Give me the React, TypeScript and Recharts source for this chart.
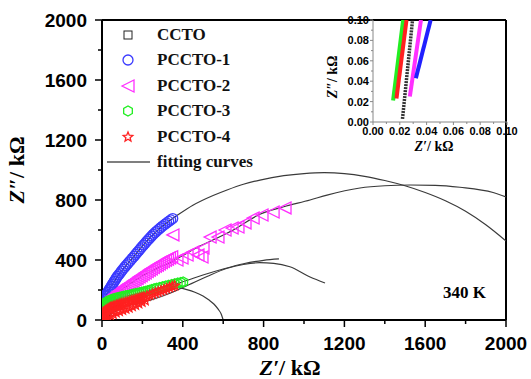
import {
  ComposedChart,
  Legend,
  Line,
  ReferenceLine,
  Scatter,
  XAxis,
  YAxis,
} from "recharts";

type Pt = [number, number];

// measured points (Z', Z'') in kΩ
const cctoPts: Pt[] = [[8, 4], [12, 10], [16, 16], [20, 22], [24, 28]];
const pccto1Pts: Pt[] = [
  [2, 90], [3, 100], [5, 110], [7, 118], [9, 126], [12, 136], [15, 146], [18, 156],
  [21, 165], [24, 174], [28, 184], [32, 194], [36, 204], [41, 214], [46, 225], [51, 236],
  [56, 247], [61, 258], [66, 269], [71, 280], [77, 291], [83, 302], [90, 314], [97, 326],
  [104, 338], [111, 350], [118, 362], [126, 374], [134, 386], [142, 398], [150, 411],
  [158, 424], [166, 437], [174, 450], [182, 462], [190, 475], [198, 488], [206, 500],
  [214, 512], [222, 525], [230, 537], [238, 549], [246, 560], [254, 571], [262, 582],
  [270, 592], [280, 604], [290, 615], [300, 626], [310, 637], [320, 647], [330, 657],
  [340, 667], [350, 676],
];
const pccto2Pts: Pt[] = [
  [2, 70], [4, 80], [7, 90], [10, 98], [14, 106], [18, 113], [23, 121], [28, 128],
  [34, 136], [40, 144], [47, 152], [54, 160], [62, 169], [70, 178], [78, 187], [87, 196],
  [96, 205], [105, 214], [114, 223], [124, 232], [134, 241], [144, 250], [154, 259],
  [164, 268], [174, 277], [184, 287], [194, 296], [204, 305], [214, 314], [224, 323],
  [234, 332], [244, 341], [254, 350], [264, 358], [274, 366], [284, 374], [294, 382],
  [304, 390], [314, 398], [324, 406], [334, 414], [345, 422],
  [351, 567], [371, 400], [396, 413], [421, 433], [450, 453], [475, 433], [495, 420],
  [500, 480], [535, 553], [574, 553], [609, 600], [644, 613], [673, 620], [708, 647],
  [748, 680], [792, 700], [847, 720], [906, 747],
];
const pccto3Pts: Pt[] = [
  [0, 60], [2, 75], [4, 88], [7, 98], [10, 105], [14, 111], [18, 116], [23, 121],
  [28, 125], [34, 129], [40, 132], [47, 136], [54, 140], [62, 143], [70, 146], [78, 149],
  [87, 152], [96, 155], [106, 158], [116, 161], [126, 164], [136, 167], [146, 170],
  [156, 173], [166, 176], [176, 179], [186, 182], [196, 185], [206, 188], [216, 191],
  [226, 195], [236, 199], [246, 203], [258, 208], [270, 212], [285, 217], [300, 222],
  [315, 227], [330, 232], [345, 236], [360, 241], [375, 246], [390, 250], [402, 254],
];
const pccto4Pts: Pt[] = [
  [0, 5], [2, 18], [4, 28], [6, 36], [9, 44], [12, 51], [16, 58], [20, 64], [25, 69],
  [30, 74], [36, 78], [42, 82], [49, 86], [56, 90], [64, 94], [72, 98], [80, 102],
  [89, 106], [98, 110], [108, 114], [118, 118], [128, 122], [138, 126], [148, 130],
  [158, 134], [168, 138], [178, 142], [188, 146], [198, 150], [208, 154],
  [6, 2], [12, 8], [20, 14], [30, 22], [42, 32], [55, 40], [70, 50], [86, 58], [102, 66],
  [118, 74], [134, 82], [150, 92], [166, 100], [182, 110], [198, 120], [214, 130],
  [222, 160], [236, 167], [250, 174], [264, 181], [278, 188], [292, 195], [306, 202],
  [320, 209], [334, 216], [348, 223], [360, 229],
];

// fitting curves
const fitCcto: Pt[] = [
  [330, 222], [380, 216], [420, 203], [460, 185], [500, 160], [530, 133], [555, 105],
  [575, 72], [590, 40], [600, 0],
];
const fit1: Pt[] = [
  [3, 90], [25, 175], [74, 285], [155, 420], [238, 550], [337, 665], [361, 687],
  [450, 765], [550, 830], [619, 867], [700, 905], [782, 933], [900, 962], [1000, 976],
  [1100, 982], [1200, 976], [1300, 958], [1400, 930], [1500, 895], [1600, 850],
  [1700, 795], [1800, 725], [1900, 635], [2000, 527],
];
const fit2: Pt[] = [
  [3, 70], [15, 90], [60, 160], [144, 247], [220, 310], [312, 367], [400, 430],
  [475, 487], [560, 540], [650, 600], [782, 705], [900, 755], [1030, 800], [1114, 833],
  [1277, 880], [1400, 895], [1525, 900], [1650, 898], [1772, 885], [1936, 850], [2000, 820],
];
const fit3: Pt[] = [
  [3, 90], [30, 120], [80, 145], [150, 168], [220, 190], [300, 220], [400, 255],
  [500, 300], [600, 340], [700, 375], [800, 398], [876, 407],
];
const fit4: Pt[] = [
  [20, 0], [30, 20], [50, 45], [80, 67], [140, 100], [240, 133], [340, 180], [430, 235],
  [520, 290], [620, 345], [700, 370], [780, 382], [850, 378], [930, 355], [1030, 287], [1104, 247],
];

// inset (0–0.1 kΩ)
const insetCcto: Pt[] = [[0.022, 0.003], [0.0295, 0.1]];
const inset1: Pt[] = [[0.032, 0.043], [0.043, 0.1]];
const inset2: Pt[] = [[0.0275, 0.025], [0.0358, 0.1]];
const inset3: Pt[] = [[0.015, 0.021], [0.0225, 0.1]];
const inset4: Pt[] = [[0.0175, 0.023], [0.025, 0.1]];

const mainTicks = [0, 200, 400, 600, 800, 1000, 1200, 1400, 1600, 1800, 2000];
const insetTicks = [0, 0.01, 0.02, 0.03, 0.04, 0.05, 0.06, 0.07, 0.08, 0.09, 0.1];

const toXY = (a: Pt[]) => a.map(([x, y]) => ({ x, y }));

const BLACK = "#222";
const BLUE = "#3a3aff";
const MAGENTA = "#ff30ff";
const GREEN = "#22ee22";
const RED = "#ff2020";
const FIT = "#3a3a3a";
const SW = 1.3;

const sans = "'Liberation Sans', Arial, sans-serif";
const serif = "'Liberation Serif', 'Times New Roman', serif";

function Square({ cx, cy, c = BLACK }: any) {
  return <rect x={cx - 4} y={cy - 4} width={8} height={8} fill="none" stroke={c} strokeWidth={1} />;
}
function Circ({ cx, cy, c = BLUE }: any) {
  return <circle cx={cx} cy={cy} r={5} fill="none" stroke={c} strokeWidth={SW} />;
}
function Tri({ cx, cy, c = MAGENTA }: any) {
  return (
    <polygon
      points={`${cx - 6},${cy} ${cx + 6},${cy - 6} ${cx + 6},${cy + 6}`}
      fill="none"
      stroke={c}
      strokeWidth={SW}
    />
  );
}
function Hex({ cx, cy, c = GREEN }: any) {
  const p = [0, 1, 2, 3, 4, 5]
    .map((i) => {
      const a = (Math.PI / 3) * i + Math.PI / 6;
      return `${cx + 5 * Math.cos(a)},${cy + 5 * Math.sin(a)}`;
    })
    .join(" ");
  return <polygon points={p} fill="none" stroke={c} strokeWidth={SW} />;
}
function Star({ cx, cy, c = RED }: any) {
  const p = Array.from({ length: 10 }, (_, i) => {
    const r = i % 2 === 0 ? 5 : 2.2;
    const a = -Math.PI / 2 + (Math.PI / 5) * i;
    return `${cx + r * Math.cos(a)},${cy + r * Math.sin(a)}`;
  }).join(" ");
  return <polygon points={p} fill="none" stroke={c} strokeWidth={SW} />;
}

function MainXTick({ x, y, payload }: any) {
  const major = payload.value % 400 === 0;
  return (
    <g>
      <line x1={x} x2={x} y1={y} y2={y + (major ? 7 : 4)} stroke="#000" strokeWidth={1.5} />
      {major && (
        <text x={x} y={y + 30} textAnchor="middle" fontFamily={sans} fontWeight="bold" fontSize={19} fill="#000">
          {payload.value}
        </text>
      )}
    </g>
  );
}
function MainYTick({ x, y, payload }: any) {
  const major = payload.value % 400 === 0;
  return (
    <g>
      <line x1={x - (major ? 7 : 4)} x2={x} y1={y} y2={y} stroke="#000" strokeWidth={1.5} />
      {major && (
        <text x={x - 15} y={y + 7} textAnchor="end" fontFamily={sans} fontWeight="bold" fontSize={19} fill="#000">
          {payload.value}
        </text>
      )}
    </g>
  );
}
function InsetXTick({ x, y, payload }: any) {
  const major = Math.round(payload.value * 100) % 2 === 0;
  return (
    <g>
      <line x1={x} x2={x} y1={y} y2={y + (major ? 3 : 2)} stroke="#888" strokeWidth={1} />
      {major && (
        <text x={x} y={y + 13} textAnchor="middle" fontFamily={sans} fontWeight="bold" fontSize={11} fill="#000">
          {payload.value.toFixed(2)}
        </text>
      )}
    </g>
  );
}
function InsetYTick({ x, y, payload }: any) {
  const major = Math.round(payload.value * 100) % 2 === 0;
  return (
    <g>
      <line x1={x - (major ? 3 : 2)} x2={x} y1={y} y2={y} stroke="#888" strokeWidth={1} />
      {major && (
        <text x={x - 4} y={y + 4} textAnchor="end" fontFamily={sans} fontWeight="bold" fontSize={11} fill="#000">
          {payload.value.toFixed(2)}
        </text>
      )}
    </g>
  );
}

function Title({ prime, x, y, size, rotate }: any) {
  return (
    <text
      x={x}
      y={y}
      textAnchor="middle"
      fontFamily={serif}
      fontWeight="bold"
      fontSize={size}
      fill="#000"
      transform={rotate ? `rotate(-90 ${x} ${y})` : undefined}
    >
      <tspan fontStyle="italic">{prime}</tspan>
      <tspan>/ kΩ</tspan>
    </text>
  );
}

const legendRows = [
  { name: "CCTO", M: Square },
  { name: "PCCTO-1", M: Circ },
  { name: "PCCTO-2", M: Tri },
  { name: "PCCTO-3", M: Hex },
  { name: "PCCTO-4", M: Star },
  { name: "fitting curves", M: null },
];

function LegendBox() {
  return (
    <div style={{ fontFamily: serif, fontWeight: "bold", fontSize: 17, color: "#111" }}>
      {legendRows.map(({ name, M }) => (
        <div key={name} style={{ display: "flex", alignItems: "center", height: 25.5 }}>
          <svg width={48} height={16} style={{ display: "block" }}>
            {M ? <M cx={24} cy={8} /> : <line x1={3} x2={46} y1={8} y2={8} stroke="#555" strokeWidth={1.5} />}
          </svg>
          <span style={{ marginLeft: 5, lineHeight: "16px" }}>{name}</span>
        </div>
      ))}
    </div>
  );
}

function fitLine(key: string, data: Pt[]) {
  return (
    <Line
      key={key}
      data={toXY(data)}
      dataKey="y"
      type="monotone"
      stroke={FIT}
      strokeWidth={1.2}
      dot={false}
      activeDot={false}
      isAnimationActive={false}
      legendType="none"
    />
  );
}

export default function App() {
  return (
    <div style={{ position: "absolute", left: 0, top: 0, width: 531, height: 379, background: "#fff" }}>
      <ComposedChart width={531} height={379} margin={{ top: 20, right: 25, bottom: 9, left: 0 }}>
        <XAxis
          dataKey="x"
          type="number"
          domain={[0, 2000]}
          ticks={mainTicks}
          interval={0}
          allowDataOverflow
          height={50}
          tickSize={0}
          tickMargin={0}
          tickLine={false}
          tick={<MainXTick />}
          axisLine={{ stroke: "#000", strokeWidth: 2 }}
          label={{
            content: ({ viewBox }: any) => (
              <Title prime="Z′" x={viewBox.x + viewBox.width / 2 - 14} y={viewBox.y + 55} size={22} />
            ),
          }}
        />
        <YAxis
          type="number"
          domain={[0, 2000]}
          ticks={mainTicks}
          interval={0}
          allowDataOverflow
          width={102}
          tickSize={0}
          tickMargin={0}
          tickLine={false}
          tick={<MainYTick />}
          axisLine={{ stroke: "#000", strokeWidth: 2 }}
          label={{
            content: ({ viewBox }: any) => (
              <Title prime="Z″" x={viewBox.x + 24} y={viewBox.y + viewBox.height / 2} size={22} rotate />
            ),
          }}
        />
        <ReferenceLine y={2000} stroke="#000" strokeWidth={2} />
        <ReferenceLine x={2000} stroke="#000" strokeWidth={2} />
        <Scatter name="CCTO" data={toXY(cctoPts)} dataKey="y" shape={(p: any) => <Square cx={p.cx} cy={p.cy} />} isAnimationActive={false} />
        <Scatter name="PCCTO-1" data={toXY(pccto1Pts)} dataKey="y" shape={(p: any) => <Circ cx={p.cx} cy={p.cy} />} isAnimationActive={false} />
        <Scatter name="PCCTO-2" data={toXY(pccto2Pts)} dataKey="y" shape={(p: any) => <Tri cx={p.cx} cy={p.cy} />} isAnimationActive={false} />
        <Scatter name="PCCTO-3" data={toXY(pccto3Pts)} dataKey="y" shape={(p: any) => <Hex cx={p.cx} cy={p.cy} />} isAnimationActive={false} />
        <Scatter name="PCCTO-4" data={toXY(pccto4Pts)} dataKey="y" shape={(p: any) => <Star cx={p.cx} cy={p.cy} />} isAnimationActive={false} />
        {fitLine("fc", fitCcto)}
        {fitLine("f1", fit1)}
        {fitLine("f2", fit2)}
        {fitLine("f3", fit3)}
        {fitLine("f4", fit4)}
        <Legend
          layout="vertical"
          align="center"
          verticalAlign="middle"
          content={() => <LegendBox />}
          wrapperStyle={{ left: 104, top: 22, width: 200 }}
        />
      </ComposedChart>

      <div style={{ position: "absolute", left: 443, top: 283, fontFamily: serif, fontWeight: "bold", fontSize: 17 }}>
        340 K
      </div>

      <div style={{ position: "absolute", left: 313, top: 0 }}>
        <ComposedChart width={218} height={160} margin={{ top: 20, right: 24, bottom: 8, left: 0 }}>
          <XAxis
            dataKey="x"
            type="number"
            domain={[0, 0.1]}
            ticks={insetTicks}
            interval={0}
            allowDataOverflow
            height={30}
            tickSize={0}
            tickMargin={0}
            tickLine={false}
            tick={<InsetXTick />}
            axisLine={{ stroke: "#888", strokeWidth: 1 }}
            label={{
              content: ({ viewBox }: any) => (
                <Title prime="Z′" x={viewBox.x + viewBox.width / 2 - 6} y={viewBox.y + 29} size={14} />
              ),
            }}
          />
          <YAxis
            type="number"
            domain={[0, 0.1]}
            ticks={insetTicks}
            interval={0}
            allowDataOverflow
            width={60}
            tickSize={0}
            tickMargin={0}
            tickLine={false}
            tick={<InsetYTick />}
            axisLine={{ stroke: "#888", strokeWidth: 1 }}
            label={{
              content: ({ viewBox }: any) => (
                <Title prime="Z″" x={viewBox.x + 24} y={viewBox.y + viewBox.height / 2 + 6} size={14} rotate />
              ),
            }}
          />
          <Line data={toXY(inset3)} dataKey="y" stroke={GREEN} strokeWidth={4} dot={false} activeDot={false} isAnimationActive={false} />
          <Line data={toXY(inset4)} dataKey="y" stroke={RED} strokeWidth={4} dot={false} activeDot={false} isAnimationActive={false} />
          <Line data={toXY(insetCcto)} dataKey="y" stroke="#333" strokeWidth={3.5} strokeDasharray="2 1" dot={false} activeDot={false} isAnimationActive={false} />
          <Line data={toXY(inset2)} dataKey="y" stroke={MAGENTA} strokeWidth={4} dot={false} activeDot={false} isAnimationActive={false} />
          <Line data={toXY(inset1)} dataKey="y" stroke="#2020ff" strokeWidth={4} dot={false} activeDot={false} isAnimationActive={false} />
        </ComposedChart>
      </div>
    </div>
  );
}
